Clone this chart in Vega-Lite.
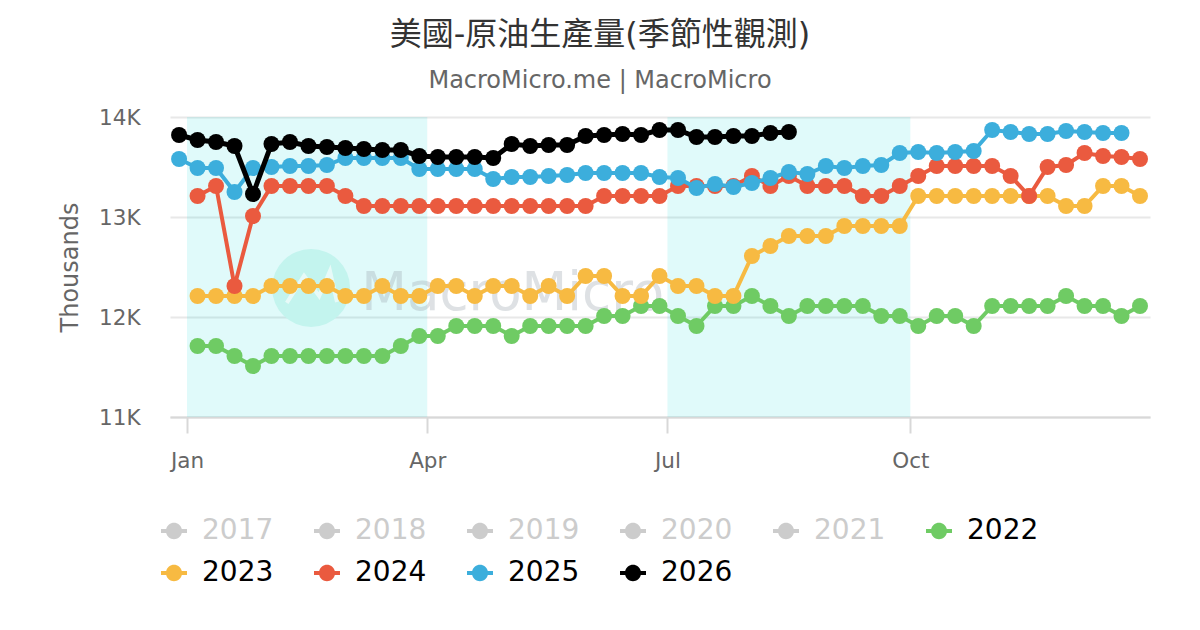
{
  "$schema": "https://vega.github.io/schema/vega-lite/v6.json",
  "width": 980,
  "height": 300,
  "autosize": {"type": "none"},
  "padding": {"left": 170, "top": 117, "right": 50, "bottom": 213},
  "background": "white",
  "title": {
    "text": "美國-原油生產量(季節性觀測)",
    "subtitle": "MacroMicro.me | MacroMicro",
    "anchor": "middle",
    "dx": -60,
    "offset": 14,
    "font": "DejaVu Sans, Noto Sans CJK TC",
    "fontSize": 32,
    "fontWeight": "normal",
    "color": "#333333",
    "subtitleFont": "DejaVu Sans",
    "subtitleFontSize": 24,
    "subtitleColor": "#666666",
    "subtitlePadding": 17
  },
  "config": {
    "view": {"stroke": null},
    "axisX": {
      "title": null,
      "grid": false,
      "format": "%b",
      "domainColor": "#d8d8d8",
      "domainWidth": 2,
      "tickColor": "#d8d8d8",
      "tickWidth": 2,
      "tickSize": 16,
      "labelPadding": 17,
      "labelFont": "DejaVu Sans",
      "labelFontSize": 21.5,
      "labelColor": "#666666"
    },
    "axisY": {
      "domain": false,
      "ticks": false,
      "gridColor": "#e8e8e8",
      "gridWidth": 2,
      "labelPadding": 30,
      "labelOffset": 1.5,
      "labelFont": "DejaVu Sans",
      "labelFontSize": 21.5,
      "labelColor": "#666666",
      "titleFont": "DejaVu Sans",
      "titleFontSize": 24,
      "titleFontWeight": "normal",
      "titleColor": "#666666",
      "titlePadding": 16
    }
  },
  "layer": [
    {
      "data": {"values": [
        {"start": "2024-01-01", "end": "2024-04-01"},
        {"start": "2024-07-01", "end": "2024-10-01"}
      ]},
      "mark": {"type": "rect", "color": "#00d4d4", "opacity": 0.12},
      "encoding": {
        "x": {
          "field": "start",
          "type": "temporal",
          "title": null,
          "scale": {"domain": ["2023-12-25T13:30:00", "2024-12-30T19:00:00"]},
          "axis": {"tickCount": {"interval": "month", "step": 3}}
        },
        "x2": {"field": "end"}
      }
    },
    {
      "data": {"values": [{"week": "2024-02-17", "value": 12290}]},
      "mark": {"type": "point", "filled": true, "size": 6084, "color": "#c3f4ee", "opacity": 1},
      "encoding": {
        "x": {"field": "week", "type": "temporal", "title": null},
        "y": {"field": "value", "type": "quantitative", "scale": {"domain": [11000, 14000]}}
      }
    },
    {
      "data": {"values": [{"week": "2024-02-17", "value": 12290}]},
      "mark": {
        "type": "point",
        "shape": "M-0.9,0.55 L-0.26,-0.45 L0.3,0.3 L0.7,-0.63 L0.96,0.52",
        "size": 2916,
        "filled": false,
        "color": "#ffffff",
        "opacity": 0.6,
        "strokeWidth": 4
      },
      "encoding": {
        "x": {"field": "week", "type": "temporal", "title": null},
        "y": {"field": "value", "type": "quantitative", "scale": {"domain": [11000, 14000]}}
      }
    },
    {
      "data": {"values": [{"week": "2024-03-07", "value": 12070, "name": "MacroMicro"}]},
      "mark": {
        "type": "text",
        "align": "left",
        "baseline": "alphabetic",
        "font": "DejaVu Sans",
        "fontSize": 53,
        "color": "#9aa5ad",
        "opacity": 0.32
      },
      "encoding": {
        "x": {"field": "week", "type": "temporal", "title": null},
        "y": {"field": "value", "type": "quantitative", "scale": {"domain": [11000, 14000]}},
        "text": {"field": "name"}
      }
    },
    {
      "data": {"values": [
        {"week":"2024-01-05","year":2022,"value":11710},{"week":"2024-01-12","year":2022,"value":11710},{"week":"2024-01-19","year":2022,"value":11610},{"week":"2024-01-26","year":2022,"value":11510},
        {"week":"2024-02-02","year":2022,"value":11610},{"week":"2024-02-09","year":2022,"value":11610},{"week":"2024-02-16","year":2022,"value":11610},{"week":"2024-02-23","year":2022,"value":11610},
        {"week":"2024-03-01","year":2022,"value":11610},{"week":"2024-03-08","year":2022,"value":11610},{"week":"2024-03-15","year":2022,"value":11610},{"week":"2024-03-22","year":2022,"value":11710},
        {"week":"2024-03-29","year":2022,"value":11810},{"week":"2024-04-05","year":2022,"value":11810},{"week":"2024-04-12","year":2022,"value":11910},{"week":"2024-04-19","year":2022,"value":11910},
        {"week":"2024-04-26","year":2022,"value":11910},{"week":"2024-05-03","year":2022,"value":11810},{"week":"2024-05-10","year":2022,"value":11910},{"week":"2024-05-17","year":2022,"value":11910},
        {"week":"2024-05-24","year":2022,"value":11910},{"week":"2024-05-31","year":2022,"value":11910},{"week":"2024-06-07","year":2022,"value":12010},{"week":"2024-06-14","year":2022,"value":12010},
        {"week":"2024-06-21","year":2022,"value":12110},{"week":"2024-06-28","year":2022,"value":12110},{"week":"2024-07-05","year":2022,"value":12010},{"week":"2024-07-12","year":2022,"value":11910},
        {"week":"2024-07-19","year":2022,"value":12110},{"week":"2024-07-26","year":2022,"value":12110},{"week":"2024-08-02","year":2022,"value":12210},{"week":"2024-08-09","year":2022,"value":12110},
        {"week":"2024-08-16","year":2022,"value":12010},{"week":"2024-08-23","year":2022,"value":12110},{"week":"2024-08-30","year":2022,"value":12110},{"week":"2024-09-06","year":2022,"value":12110},
        {"week":"2024-09-13","year":2022,"value":12110},{"week":"2024-09-20","year":2022,"value":12010},{"week":"2024-09-27","year":2022,"value":12010},{"week":"2024-10-04","year":2022,"value":11910},
        {"week":"2024-10-11","year":2022,"value":12010},{"week":"2024-10-18","year":2022,"value":12010},{"week":"2024-10-25","year":2022,"value":11910},{"week":"2024-11-01","year":2022,"value":12110},
        {"week":"2024-11-08","year":2022,"value":12110},{"week":"2024-11-15","year":2022,"value":12110},{"week":"2024-11-22","year":2022,"value":12110},{"week":"2024-11-29","year":2022,"value":12210},
        {"week":"2024-12-06","year":2022,"value":12110},{"week":"2024-12-13","year":2022,"value":12110},{"week":"2024-12-20","year":2022,"value":12010},{"week":"2024-12-27","year":2022,"value":12110},

        {"week":"2024-01-05","year":2023,"value":12210},{"week":"2024-01-12","year":2023,"value":12210},{"week":"2024-01-19","year":2023,"value":12210},{"week":"2024-01-26","year":2023,"value":12210},
        {"week":"2024-02-02","year":2023,"value":12310},{"week":"2024-02-09","year":2023,"value":12310},{"week":"2024-02-16","year":2023,"value":12310},{"week":"2024-02-23","year":2023,"value":12310},
        {"week":"2024-03-01","year":2023,"value":12210},{"week":"2024-03-08","year":2023,"value":12210},{"week":"2024-03-15","year":2023,"value":12310},{"week":"2024-03-22","year":2023,"value":12210},
        {"week":"2024-03-29","year":2023,"value":12210},{"week":"2024-04-05","year":2023,"value":12310},{"week":"2024-04-12","year":2023,"value":12310},{"week":"2024-04-19","year":2023,"value":12210},
        {"week":"2024-04-26","year":2023,"value":12310},{"week":"2024-05-03","year":2023,"value":12310},{"week":"2024-05-10","year":2023,"value":12210},{"week":"2024-05-17","year":2023,"value":12310},
        {"week":"2024-05-24","year":2023,"value":12210},{"week":"2024-05-31","year":2023,"value":12410},{"week":"2024-06-07","year":2023,"value":12410},{"week":"2024-06-14","year":2023,"value":12210},
        {"week":"2024-06-21","year":2023,"value":12210},{"week":"2024-06-28","year":2023,"value":12410},{"week":"2024-07-05","year":2023,"value":12310},{"week":"2024-07-12","year":2023,"value":12310},
        {"week":"2024-07-19","year":2023,"value":12210},{"week":"2024-07-26","year":2023,"value":12210},{"week":"2024-08-02","year":2023,"value":12610},{"week":"2024-08-09","year":2023,"value":12710},
        {"week":"2024-08-16","year":2023,"value":12810},{"week":"2024-08-23","year":2023,"value":12810},{"week":"2024-08-30","year":2023,"value":12810},{"week":"2024-09-06","year":2023,"value":12910},
        {"week":"2024-09-13","year":2023,"value":12910},{"week":"2024-09-20","year":2023,"value":12910},{"week":"2024-09-27","year":2023,"value":12910},{"week":"2024-10-04","year":2023,"value":13210},
        {"week":"2024-10-11","year":2023,"value":13210},{"week":"2024-10-18","year":2023,"value":13210},{"week":"2024-10-25","year":2023,"value":13210},{"week":"2024-11-01","year":2023,"value":13210},
        {"week":"2024-11-08","year":2023,"value":13210},{"week":"2024-11-15","year":2023,"value":13210},{"week":"2024-11-22","year":2023,"value":13210},{"week":"2024-11-29","year":2023,"value":13110},
        {"week":"2024-12-06","year":2023,"value":13110},{"week":"2024-12-13","year":2023,"value":13310},{"week":"2024-12-20","year":2023,"value":13310},{"week":"2024-12-27","year":2023,"value":13210},

        {"week":"2024-01-05","year":2024,"value":13210},{"week":"2024-01-12","year":2024,"value":13310},{"week":"2024-01-19","year":2024,"value":12310},{"week":"2024-01-26","year":2024,"value":13010},
        {"week":"2024-02-02","year":2024,"value":13310},{"week":"2024-02-09","year":2024,"value":13310},{"week":"2024-02-16","year":2024,"value":13310},{"week":"2024-02-23","year":2024,"value":13310},
        {"week":"2024-03-01","year":2024,"value":13210},{"week":"2024-03-08","year":2024,"value":13110},{"week":"2024-03-15","year":2024,"value":13110},{"week":"2024-03-22","year":2024,"value":13110},
        {"week":"2024-03-29","year":2024,"value":13110},{"week":"2024-04-05","year":2024,"value":13110},{"week":"2024-04-12","year":2024,"value":13110},{"week":"2024-04-19","year":2024,"value":13110},
        {"week":"2024-04-26","year":2024,"value":13110},{"week":"2024-05-03","year":2024,"value":13110},{"week":"2024-05-10","year":2024,"value":13110},{"week":"2024-05-17","year":2024,"value":13110},
        {"week":"2024-05-24","year":2024,"value":13110},{"week":"2024-05-31","year":2024,"value":13110},{"week":"2024-06-07","year":2024,"value":13210},{"week":"2024-06-14","year":2024,"value":13210},
        {"week":"2024-06-21","year":2024,"value":13210},{"week":"2024-06-28","year":2024,"value":13210},{"week":"2024-07-05","year":2024,"value":13310},{"week":"2024-07-12","year":2024,"value":13310},
        {"week":"2024-07-19","year":2024,"value":13310},{"week":"2024-07-26","year":2024,"value":13310},{"week":"2024-08-02","year":2024,"value":13410},{"week":"2024-08-09","year":2024,"value":13310},
        {"week":"2024-08-16","year":2024,"value":13410},{"week":"2024-08-23","year":2024,"value":13310},{"week":"2024-08-30","year":2024,"value":13310},{"week":"2024-09-06","year":2024,"value":13310},
        {"week":"2024-09-13","year":2024,"value":13210},{"week":"2024-09-20","year":2024,"value":13210},{"week":"2024-09-27","year":2024,"value":13310},{"week":"2024-10-04","year":2024,"value":13410},
        {"week":"2024-10-11","year":2024,"value":13510},{"week":"2024-10-18","year":2024,"value":13510},{"week":"2024-10-25","year":2024,"value":13510},{"week":"2024-11-01","year":2024,"value":13510},
        {"week":"2024-11-08","year":2024,"value":13410},{"week":"2024-11-15","year":2024,"value":13210},{"week":"2024-11-22","year":2024,"value":13500},{"week":"2024-11-29","year":2024,"value":13520},
        {"week":"2024-12-06","year":2024,"value":13640},{"week":"2024-12-13","year":2024,"value":13610},{"week":"2024-12-20","year":2024,"value":13600},{"week":"2024-12-27","year":2024,"value":13580},

        {"week":"2023-12-29","year":2025,"value":13580},{"week":"2024-01-05","year":2025,"value":13490},{"week":"2024-01-12","year":2025,"value":13490},{"week":"2024-01-19","year":2025,"value":13250},
        {"week":"2024-01-26","year":2025,"value":13490},{"week":"2024-02-02","year":2025,"value":13500},{"week":"2024-02-09","year":2025,"value":13510},{"week":"2024-02-16","year":2025,"value":13510},
        {"week":"2024-02-23","year":2025,"value":13520},{"week":"2024-03-01","year":2025,"value":13590},{"week":"2024-03-08","year":2025,"value":13590},{"week":"2024-03-15","year":2025,"value":13590},
        {"week":"2024-03-22","year":2025,"value":13590},{"week":"2024-03-29","year":2025,"value":13480},{"week":"2024-04-05","year":2025,"value":13480},{"week":"2024-04-12","year":2025,"value":13480},
        {"week":"2024-04-19","year":2025,"value":13480},{"week":"2024-04-26","year":2025,"value":13380},{"week":"2024-05-03","year":2025,"value":13400},{"week":"2024-05-10","year":2025,"value":13400},
        {"week":"2024-05-17","year":2025,"value":13410},{"week":"2024-05-24","year":2025,"value":13420},{"week":"2024-05-31","year":2025,"value":13440},{"week":"2024-06-07","year":2025,"value":13440},
        {"week":"2024-06-14","year":2025,"value":13440},{"week":"2024-06-21","year":2025,"value":13440},{"week":"2024-06-28","year":2025,"value":13400},{"week":"2024-07-05","year":2025,"value":13390},
        {"week":"2024-07-12","year":2025,"value":13290},{"week":"2024-07-19","year":2025,"value":13330},{"week":"2024-07-26","year":2025,"value":13300},{"week":"2024-08-02","year":2025,"value":13340},
        {"week":"2024-08-09","year":2025,"value":13390},{"week":"2024-08-16","year":2025,"value":13450},{"week":"2024-08-23","year":2025,"value":13430},{"week":"2024-08-30","year":2025,"value":13510},
        {"week":"2024-09-06","year":2025,"value":13490},{"week":"2024-09-13","year":2025,"value":13510},{"week":"2024-09-20","year":2025,"value":13520},{"week":"2024-09-27","year":2025,"value":13640},
        {"week":"2024-10-04","year":2025,"value":13650},{"week":"2024-10-11","year":2025,"value":13640},{"week":"2024-10-18","year":2025,"value":13650},{"week":"2024-10-25","year":2025,"value":13660},
        {"week":"2024-11-01","year":2025,"value":13870},{"week":"2024-11-08","year":2025,"value":13850},{"week":"2024-11-15","year":2025,"value":13830},{"week":"2024-11-22","year":2025,"value":13830},
        {"week":"2024-11-29","year":2025,"value":13860},{"week":"2024-12-06","year":2025,"value":13850},{"week":"2024-12-13","year":2025,"value":13840},{"week":"2024-12-20","year":2025,"value":13840},

        {"week":"2023-12-29","year":2026,"value":13820},{"week":"2024-01-05","year":2026,"value":13770},{"week":"2024-01-12","year":2026,"value":13750},{"week":"2024-01-19","year":2026,"value":13710},
        {"week":"2024-01-26","year":2026,"value":13230},{"week":"2024-02-02","year":2026,"value":13730},{"week":"2024-02-09","year":2026,"value":13750},{"week":"2024-02-16","year":2026,"value":13710},
        {"week":"2024-02-23","year":2026,"value":13700},{"week":"2024-03-01","year":2026,"value":13690},{"week":"2024-03-08","year":2026,"value":13680},{"week":"2024-03-15","year":2026,"value":13670},
        {"week":"2024-03-22","year":2026,"value":13670},{"week":"2024-03-29","year":2026,"value":13610},{"week":"2024-04-05","year":2026,"value":13600},{"week":"2024-04-12","year":2026,"value":13600},
        {"week":"2024-04-19","year":2026,"value":13600},{"week":"2024-04-26","year":2026,"value":13590},{"week":"2024-05-03","year":2026,"value":13730},{"week":"2024-05-10","year":2026,"value":13710},
        {"week":"2024-05-17","year":2026,"value":13720},{"week":"2024-05-24","year":2026,"value":13720},{"week":"2024-05-31","year":2026,"value":13810},{"week":"2024-06-07","year":2026,"value":13820},
        {"week":"2024-06-14","year":2026,"value":13830},{"week":"2024-06-21","year":2026,"value":13820},{"week":"2024-06-28","year":2026,"value":13870},{"week":"2024-07-05","year":2026,"value":13870},
        {"week":"2024-07-12","year":2026,"value":13800},{"week":"2024-07-19","year":2026,"value":13800},{"week":"2024-07-26","year":2026,"value":13810},{"week":"2024-08-02","year":2026,"value":13810},
        {"week":"2024-08-09","year":2026,"value":13840},{"week":"2024-08-16","year":2026,"value":13850}
      ]},
      "encoding": {
        "x": {
          "field": "week",
          "type": "temporal",
          "title": null,
          "scale": {"domain": ["2023-12-25T13:30:00", "2024-12-30T19:00:00"]},
          "axis": {"tickCount": {"interval": "month", "step": 3}}
        },
        "y": {
          "field": "value",
          "type": "quantitative",
          "title": "Thousands",
          "scale": {"domain": [11000, 14000]},
          "axis": {"values": [11000, 12000, 13000, 14000], "labelExpr": "datum.value / 1000 + 'K'"}
        },
        "color": {
          "field": "year",
          "type": "nominal",
          "scale": {
            "domain": [2017, 2018, 2019, 2020, 2021, 2022, 2023, 2024, 2025, 2026],
            "range": ["#cccccc", "#cccccc", "#cccccc", "#cccccc", "#cccccc", "#6fcb64", "#f7ba42", "#ea5a3f", "#3caedc", "#000000"]
          },
          "legend": {
            "title": null,
            "orient": "none",
            "direction": "horizontal",
            "legendX": -10,
            "legendY": 400,
            "columns": 6,
            "columnPadding": 39,
            "rowPadding": 14,
            "gridAlign": "all",
            "symbolType": "M-1,-0.154 H-0.6 A0.615,0.615 0 0 1 0.6,-0.154 H1 V0.154 H0.6 A0.615,0.615 0 0 1 -0.6,0.154 H-1 Z",
            "symbolSize": 676,
            "symbolStrokeWidth": 0,
            "symbolOpacity": 1,
            "labelFont": "DejaVu Sans",
            "labelFontSize": 28,
            "labelOffset": 14,
            "labelLimit": 120,
            "encode": {
              "symbols": {"update": {"fill": {"scale": "color", "field": "value"}, "strokeWidth": {"value": 0}}},
              "labels": {"update": {"fill": {"signal": "datum.value < 2022 ? '#cccccc' : '#000000'"}}}
            }
          }
        }
      },
      "layer": [
        {
          "transform": [{"filter": "datum.year == 2022"}],
          "mark": {"type": "line", "strokeWidth": 4, "point": {"filled": true, "size": 256, "opacity": 1}}
        },
        {
          "transform": [{"filter": "datum.year == 2023"}],
          "mark": {"type": "line", "strokeWidth": 4, "point": {"filled": true, "size": 256, "opacity": 1}}
        },
        {
          "transform": [{"filter": "datum.year == 2024"}],
          "mark": {"type": "line", "strokeWidth": 4, "point": {"filled": true, "size": 256, "opacity": 1}}
        },
        {
          "transform": [{"filter": "datum.year == 2025"}],
          "mark": {"type": "line", "strokeWidth": 4, "point": {"filled": true, "size": 256, "opacity": 1}}
        },
        {
          "transform": [{"filter": "datum.year == 2026"}],
          "mark": {"type": "line", "strokeWidth": 5, "point": {"filled": true, "size": 256, "opacity": 1}}
        }
      ]
    }
  ]
}
